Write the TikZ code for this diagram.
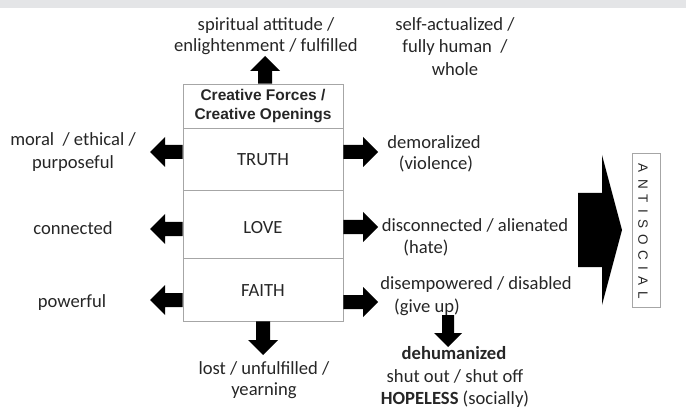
\documentclass[tikz,border=0pt]{standalone}
\usepackage{fontspec}
\setmainfont{Carlito}
\newfontfamily\arialfont{Liberation Sans}
\usetikzlibrary{calc}
\definecolor{txt}{HTML}{262626}
\definecolor{boxline}{HTML}{A6A6A6}
\definecolor{band}{HTML}{E4E5E7}
\tikzset{
  lbl/.style={font=\fontsize{18.6}{22}\selectfont, text=txt, inner sep=0pt, anchor=base},
  cell/.style={draw=boxline, line width=0.9pt, minimum width=160pt, inner sep=0pt},
  blockarrow/.style n args={3}{to path={
    ($(\tikztostart)!#1!90:(\tikztotarget)$) --
    ($(\tikztotarget)!#3!(\tikztostart)!#1!90:(\tikztotarget)$) --
    ($(\tikztotarget)!#3!(\tikztostart)!#2!90:(\tikztotarget)$) --
    (\tikztotarget) --
    ($(\tikztotarget)!#3!(\tikztostart)!#2!-90:(\tikztotarget)$) --
    ($(\tikztotarget)!#3!(\tikztostart)!#1!-90:(\tikztotarget)$) --
    ($(\tikztostart)!#1!-90:(\tikztotarget)$) -- cycle}},
  smallarrow/.style={blockarrow={7pt}{15pt}{15pt}}
}
\newcommand\lsp{\hspace{6.1pt}}
\begin{document}
\begin{tikzpicture}[x=1pt,y=-1pt]
\useasboundingbox (0,0) rectangle (686,409);
\fill[band] (0,0) rectangle (686,8);

% central box
\node[cell, minimum height=44pt, align=center, text=txt,
      font=\arialfont\bfseries\fontsize{15.5}{18.5}\selectfont] (header) at (263,106)
      {Creative Forces /\\Creative Openings};
\node[cell, minimum height=62pt] (truth) at (263,159) {};
\node[cell, minimum height=68pt] (love) at (263,224) {};
\node[cell, minimum height=63pt] (faith) at (263,289.5) {};
\node[lbl, anchor=center] (truthlbl) at (263,160) {TRUTH};
\node[lbl, anchor=center] (lovelbl) at (263,228) {LOVE};
\node[lbl, anchor=center] (faithlbl) at (263,291) {FAITH};

% top texts
\node[lbl] (sp1) at (266,31) {spiritual attitude /};
\node[lbl] (sp2) at (266,52) {enlightenment / fulfilled};
\node[lbl] (sa1) at (455,31) {self-actualized /};
\node[lbl] (sa2) at (455,53) {fully human\ \ /};
\node[lbl] (sa3) at (455,76) {whole};

% left texts
\node[lbl] (mo1) at (73,146) {moral\ \ / ethical /};
\node[lbl] (mo2) at (73,169) {purposeful};
\node[lbl] (con) at (73,234) {connected};
\node[lbl] (pow) at (72,307) {powerful};

% right texts
\node[lbl] (de1) at (434,149) {demoralized};
\node[lbl] (de2) at (436,170) {(violence)};
\node[lbl] (di1) at (475,231) {disconnected / alienated};
\node[lbl] (di2) at (426,253) {(hate)};
\node[lbl] (dp1) at (476,289) {disempowered / disabled};
\node[lbl] (dp2) at (427,312) {(give up)};

% bottom texts
\node[lbl] (dh1) at (454,359) {\textbf{dehumanized}};
\node[lbl] (dh2) at (455,382) {shut out / shut off};
\node[lbl] (dh3) at (455,404) {\textbf{HOPELESS} (socially)};
\node[lbl] (lo1) at (264,374) {lost / unfulfilled /};
\node[lbl] (lo2) at (264,395) {yearning};

% antisocial box
\node[draw=boxline, line width=0.9pt, minimum width=28pt, minimum height=154pt, inner sep=0pt]
  (anti) at (646,230) {};
\node[rotate=-90, inner sep=0pt, text=txt, font=\arialfont\fontsize{13.5}{15}\selectfont]
  (antilbl) at (643,231.5)
  {A\lsp N\lsp T\lsp I\lsp S\lsp O\lsp C\lsp I\lsp A\lsp L};

% arrow end points
\coordinate (topend) at (265,56);
\coordinate (botend) at (263,355);
\coordinate (tl) at (150,152);
\coordinate (ll) at (150,229);
\coordinate (fl) at (150,300);
\coordinate (tr) at (378,152);
\coordinate (lr) at (378,227);
\coordinate (fr) at (378,302);
\coordinate (bigs) at (578,230);
\coordinate (bige) at (622,230);
\coordinate (dns) at (448,315);
\coordinate (dne) at (448,347);

\coordinate (topst) at (header.north -| topend);
\coordinate (botst) at (faith.south -| botend);
\coordinate (tls) at (truth.west |- tl);
\coordinate (lls) at (love.west |- ll);
\coordinate (fls) at (faith.west |- fl);
\coordinate (trs) at (truth.east |- tr);
\coordinate (lrs) at (love.east |- lr);
\coordinate (frs) at (faith.east |- fr);

\fill (topst) to[smallarrow] (topend);
\fill (botst) to[smallarrow] (botend);
\fill (tls) to[smallarrow] (tl);
\fill (lls) to[smallarrow] (ll);
\fill (fls) to[smallarrow] (fl);
\fill (trs) to[smallarrow] (tr);
\fill (lrs) to[smallarrow] (lr);
\fill (frs) to[smallarrow] (fr);
\fill (dns) to[blockarrow={6pt}{14pt}{14pt}] (dne);
\fill (bigs) to[blockarrow={37pt}{75pt}{20pt}] (bige);
\end{tikzpicture}
\end{document}
